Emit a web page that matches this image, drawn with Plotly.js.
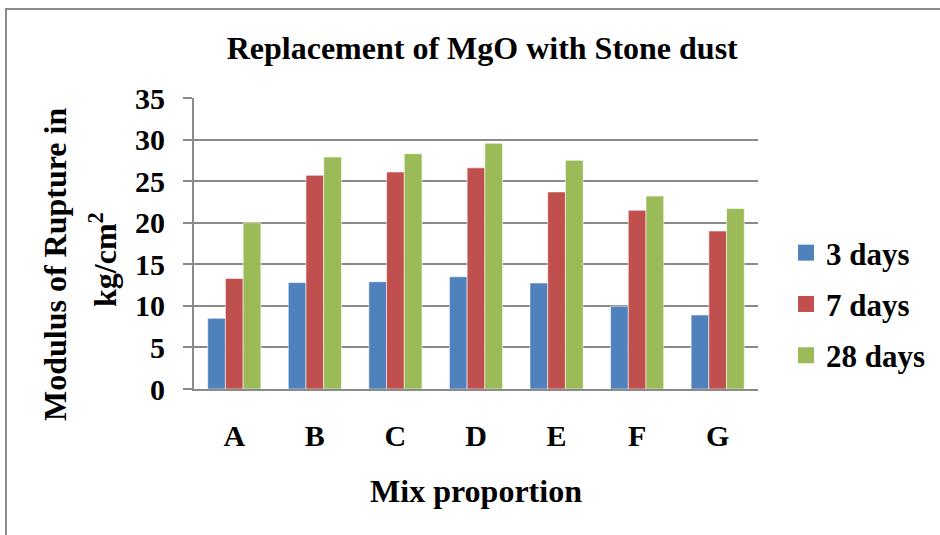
<!DOCTYPE html>
<html>
<head>
<meta charset="utf-8">
<script src="https://cdn.plot.ly/plotly-3.0.1.min.js"></script>
<style>
  html, body { margin: 0; padding: 0; background: #fff; }
  #wrap { position: relative; width: 940px; height: 535px; overflow: hidden; }
  #frame { position: absolute; left: 5px; top: 8px; width: 960px; height: 560px;
           border-left: 2px solid #8a8a8a; border-top: 2px solid #8a8a8a; box-sizing: border-box; }
  #chart { position: absolute; left: 0; top: 0; width: 940px; height: 535px; }
</style>
</head>
<body>
<div id="wrap">
  <div id="frame"></div>
  <div id="chart"></div>
</div>
<script>
const categories = ["A", "B", "C", "D", "E", "F", "G"];
const seriesNames = ["3 days", "7 days", "28 days"];
const days3  = [8.5, 12.8, 12.9, 13.5, 12.75, 9.95, 8.9];
const days7  = [13.3, 25.7, 26.1, 26.6, 23.7, 21.5, 19.0];
const days28 = [20.0, 27.9, 28.3, 29.55, 27.5, 23.2, 21.7];
const yTicks = [0, 5, 10, 15, 20, 25, 30, 35];
const colors = ["#4F81BD", "#C0504D", "#9BBB59"];
const yTitleLines = ["Modulus of Rupture in", "kg/cm<sup>2</sup>"];

const serif = "Liberation Serif";
const values = [days3, days7, days28];

const traces = values.map((v, i) => ({
  type: "bar",
  name: seriesNames[i],
  x: categories,
  y: v,
  marker: { color: colors[i], line: { color: "rgba(255,255,255,0.7)", width: 0.8 } },
  showlegend: false,
  hoverinfo: "x+y+name"
}));
// legend entries (square markers)
seriesNames.forEach((n, i) => traces.push({
  type: "scatter", mode: "markers", name: n, x: [null], y: [null],
  legendgroup: "g" + i,
  marker: { symbol: "square", size: 17, color: colors[i] },
  showlegend: true
}));

// plot area in pixels: x 194..758, y 98..389
const L = 194, R = 758, T = 98, B = 389;
const px = x => (x - L) / (R - L);
const py = y => (B - y) / (B - T);

const layout = {
  width: 940, height: 535,
  paper_bgcolor: "rgba(0,0,0,0)",
  plot_bgcolor: "rgba(0,0,0,0)",
  margin: { l: L, r: 940 - R, t: T, b: 535 - B, autoexpand: false },
  font: { family: serif, color: "#000", size: 30, weight: "bold" },
  title: {
    text: "Replacement of MgO with Stone dust",
    font: { family: serif, size: 32, weight: "bold", color: "#000" },
    x: 0.513, xref: "container", xanchor: "center",
    y: 0.91, yref: "container", yanchor: "middle"
  },
  barmode: "group",
  bargap: 0.34,
  bargroupgap: 0,
  xaxis: {
    type: "category",
    showgrid: false,
    showline: true, linecolor: "#8a8a8a", linewidth: 2,
    ticks: "", ticklabelstandoff: 19,
    tickfont: { family: serif, size: 30, weight: "bold" },
    title: { text: "Mix proportion", font: { family: serif, size: 32, weight: "bold" }, standoff: 29 },
    automargin: false,
    fixedrange: true
  },
  yaxis: {
    range: [0, 35],
    tickvals: yTicks,
    ticktext: yTicks.map(String),
    showgrid: true, gridcolor: "#8a8a8a", gridwidth: 2,
    showline: true, linecolor: "#8a8a8a", linewidth: 2,
    ticks: "outside", ticklen: 9, tickcolor: "#8a8a8a", tickwidth: 2,
    ticklabelstandoff: 12,
    zeroline: false,
    tickfont: { family: serif, size: 30, weight: "bold" },
    automargin: false,
    fixedrange: true
  },
  legend: {
    x: px(786), xanchor: "left", xref: "paper",
    y: py(226), yanchor: "top", yref: "paper",
    font: { family: serif, size: 31, weight: "bold", color: "#000" },
    traceorder: "grouped",
    tracegroupgap: 8,
    itemwidth: 30,
    bgcolor: "rgba(0,0,0,0)"
  },
  annotations: [
    {
      text: yTitleLines[0],
      xref: "paper", yref: "paper",
      x: px(55), y: py(265),
      xanchor: "center", yanchor: "middle",
      textangle: -90, showarrow: false,
      font: { family: serif, size: 32, weight: "bold", color: "#000" }
    },
    {
      text: yTitleLines[1],
      xref: "paper", yref: "paper",
      x: px(103), y: py(260),
      xanchor: "center", yanchor: "middle",
      textangle: -90, showarrow: false,
      font: { family: serif, size: 32, weight: "bold", color: "#000" }
    }
  ]
};

Plotly.newPlot("chart", traces, layout, { displayModeBar: false, staticPlot: true });
</script>
</body>
</html>
